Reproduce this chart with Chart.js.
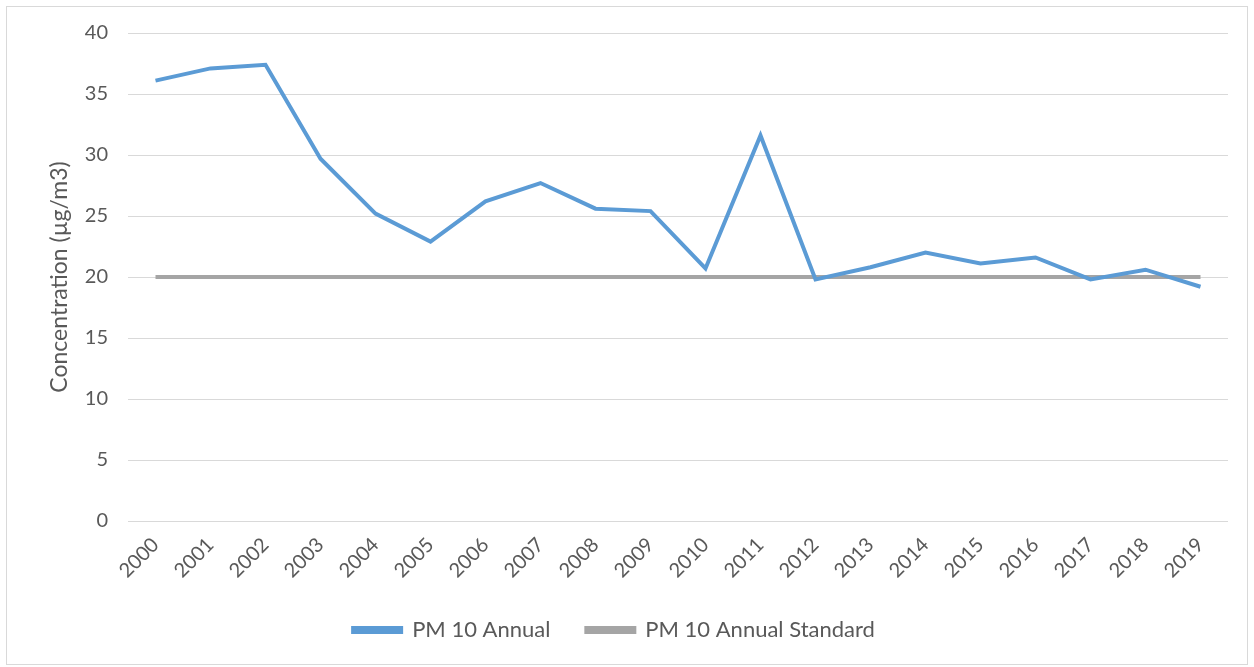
<!DOCTYPE html>
<html lang="en">
<head>
    <meta charset="UTF-8">
    <title>PM 10 Annual</title>
    <script src="https://cdn.jsdelivr.net/npm/chart.js@4/dist/chart.umd.min.js"></script>
    <style>
        body {
            margin: 0;
            background: #fff;
        }

        .frame {
            position: absolute;
            left: 6px;
            top: 6px;
            width: 1240px;
            height: 657px;
            border: 1px solid #d9d9d9;
        }

        .wrap {
            position: absolute;
            left: 0;
            top: 0;
            width: 1254px;
            height: 667px;
        }
    </style>
</head>
<body>
    <div class="frame"></div>
    <div class="wrap"><canvas id="myChart"></canvas></div>

    <script>
        const years = ["2000", "2001", "2002", "2003", "2004", "2005", "2006", "2007", "2008", "2009",
            "2010", "2011", "2012", "2013", "2014", "2015", "2016", "2017", "2018", "2019"];
        const pm10Annual = [36.1, 37.1, 37.4, 29.7, 25.2, 22.9, 26.2, 27.7, 25.6, 25.4,
            20.7, 31.6, 19.8, 20.8, 22.0, 21.1, 21.6, 19.8, 20.6, 19.2];
        const pm10Standard = [20, 20, 20, 20, 20, 20, 20, 20, 20, 20,
            20, 20, 20, 20, 20, 20, 20, 20, 20, 20];

        const textColor = "#595959";
        const fontFamily = "Lato, 'Open Sans', sans-serif";

        new Chart("myChart", {
            type: "line",
            data: {
                labels: years,
                datasets: [{
                    label: "PM 10 Annual",
                    data: pm10Annual,
                    borderColor: "#5b9bd5",
                    backgroundColor: "#5b9bd5",
                    borderWidth: 4,
                    pointRadius: 0,
                    tension: 0,
                    order: 0
                }, {
                    label: "PM 10 Annual Standard",
                    data: pm10Standard,
                    borderColor: "#a5a5a5",
                    backgroundColor: "#a5a5a5",
                    borderWidth: 4,
                    pointRadius: 0,
                    order: 1
                }]
            },
            options: {
                responsive: true,
                maintainAspectRatio: false,
                animation: false,
                layout: {
                    padding: { left: 0, right: 26, top: 33, bottom: 16 }
                },
                plugins: {
                    legend: {
                        position: "bottom",
                        labels: {
                            color: textColor,
                            font: { family: fontFamily, size: 22 },
                            boxWidth: 48,
                            boxHeight: 4,
                            padding: 36
                        }
                    },
                    tooltip: { enabled: false }
                },
                scales: {
                    x: {
                        offset: true,
                        grid: { display: false },
                        border: { display: false },
                        ticks: {
                            color: textColor,
                            font: { family: fontFamily, size: 20 },
                            minRotation: 45,
                            maxRotation: 45,
                            padding: 4
                        },
                        afterFit: (scale) => { scale.height = 62; }
                    },
                    y: {
                        min: 0,
                        max: 40,
                        border: { display: false },
                        grid: { color: "#d9d9d9", lineWidth: 1, drawTicks: false },
                        ticks: {
                            stepSize: 5,
                            color: textColor,
                            font: { family: fontFamily, size: 20 },
                            padding: 20
                        },
                        title: {
                            display: true,
                            text: "Concentration (µg/m3)",
                            color: textColor,
                            font: { family: fontFamily, size: 23 },
                            padding: { top: 46, bottom: 0 }
                        },
                        afterFit: (scale) => { scale.width = 128; }
                    }
                }
            }
        });
    </script>
</body>
</html>
